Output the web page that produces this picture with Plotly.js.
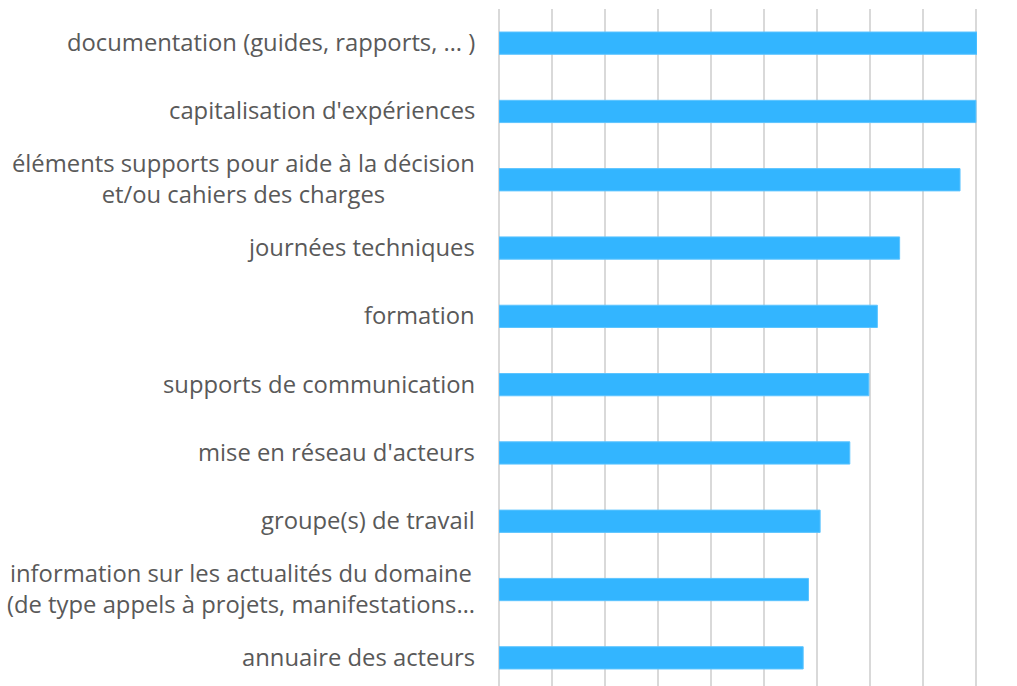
<!DOCTYPE html>
<html>
<head>
<meta charset="utf-8">
<script src="https://cdn.plot.ly/plotly-3.0.1.min.js"></script>
<style>html,body{margin:0;padding:0;overflow:hidden;background:#fff;}</style>
</head>
<body>
<div id="chart" style="width:1017px;height:692px;"></div>
<script>
// Categories listed top to bottom
const categories = [
  "documentation (guides, rapports, … )",
  "capitalisation d'expériences",
  "éléments supports pour aide à la décision<br>et/ou cahiers des charges",
  "journées techniques",
  "formation",
  "supports de communication",
  "mise en réseau d'acteurs",
  "groupe(s) de travail",
  "information sur les actualités du domaine<br>(de type appels à projets, manifestations…",
  "annuaire des acteurs"
];
const values = [45.1, 45.0, 43.5, 37.8, 35.7, 34.9, 33.1, 30.3, 29.2, 28.7];

const labelFont = {family: "'Open Sans', Lato, sans-serif", size: 23.8, color: "#595959"};

const annotations = categories.map((c) => ({
  text: c,
  xref: "paper", yref: "y",
  x: -0.046, y: c,
  xanchor: "right", yanchor: "middle",
  yshift: 1,
  align: "center",
  showarrow: false,
  font: labelFont
}));

const data = [{
  type: "bar",
  orientation: "h",
  x: values,
  y: categories,
  marker: {color: "#33B5FF", line: {color: "#5CC4FF", width: 1}},
  hoverinfo: "x+y"
}];

const layout = {
  width: 1017, height: 692,
  margin: {l: 499, r: 40, t: 9, b: 0},
  paper_bgcolor: "#ffffff",
  plot_bgcolor: "#ffffff",
  showlegend: false,
  bargap: 0.674,
  xaxis: {
    range: [0, 45.1],
    dtick: 5,
    showgrid: true,
    gridcolor: "#d9d9d9",
    gridwidth: 1.5,
    zeroline: true,
    zerolinecolor: "#d9d9d9",
    zerolinewidth: 1.5,
    showticklabels: false,
    ticks: "",
    showline: false
  },
  yaxis: {
    type: "category",
    categoryorder: "array",
    categoryarray: categories.slice().reverse(),
    autorange: false,
    range: [-0.5, categories.length - 0.5],
    showticklabels: false,
    ticks: "",
    showgrid: false,
    zeroline: false,
    showline: false
  },
  annotations: annotations
};

Plotly.newPlot("chart", data, layout, {displayModeBar: false, staticPlot: true});
</script>
</body>
</html>
